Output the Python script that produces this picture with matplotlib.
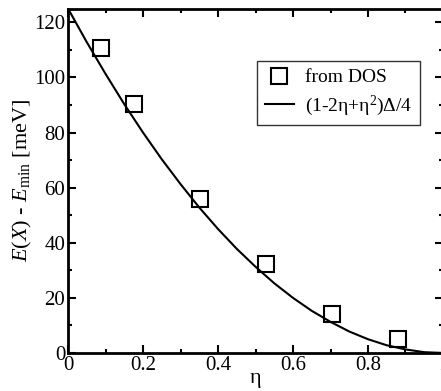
import matplotlib
matplotlib.use("Agg")
import matplotlib.pyplot as plt
from matplotlib.ticker import MultipleLocator

plt.rcParams['font.family'] = ['Liberation Serif', 'DejaVu Serif']
plt.rcParams['mathtext.fontset'] = 'custom'
plt.rcParams['mathtext.rm'] = 'Liberation Serif'
plt.rcParams['mathtext.it'] = 'Liberation Serif:italic'

# data points from DOS
eta_dos = [0.088, 0.176, 0.352, 0.528, 0.704, 0.88]
e_dos = [110.5, 90.5, 56.0, 32.3, 14.2, 5.0]

# model curve
eta_fit = [0.0, 0.05, 0.1, 0.15, 0.2, 0.25, 0.3, 0.35, 0.4, 0.45, 0.5,
           0.55, 0.6, 0.65, 0.7, 0.75, 0.8, 0.85, 0.9, 0.95, 1.0]
e_fit = [125.0, 112.8, 101.3, 90.3, 80.0, 70.3, 61.3, 52.8, 45.0, 37.8, 31.3,
         25.3, 20.0, 15.3, 11.3, 7.8, 5.0, 2.8, 1.3, 0.3, 0.0]

fig = plt.figure(figsize=(4.41, 3.91), dpi=100)
ax = fig.add_axes([68 / 441, 38 / 391, 375 / 441, 344.5 / 391])

ax.plot(eta_dos, e_dos, 's', ms=11, mfc='none', mec='black', mew=1.5,
        label='from DOS')
ax.plot(eta_fit, e_fit, '-', color='black', lw=1.5,
        label=r'(1-2η+η$^{2}$)Δ/4')

ax.set_xlim(0, 1)
ax.set_ylim(0, 125)
ax.xaxis.set_major_locator(MultipleLocator(0.2))
ax.xaxis.set_minor_locator(MultipleLocator(0.1))
ax.yaxis.set_major_locator(MultipleLocator(20))
ax.yaxis.set_minor_locator(MultipleLocator(10))
ax.xaxis.set_major_formatter(plt.FuncFormatter(lambda v, p: '%g' % round(v, 1)))
ax.tick_params(which='both', direction='in', top=True, right=True,
               width=1.5, labelsize=15, pad=2)
ax.tick_params(which='major', length=6)
ax.tick_params(which='minor', length=3)
for s in ax.spines.values():
    s.set_linewidth(2)

ax.set_xlabel('η', fontsize=16, labelpad=-4)
ax.set_ylabel(r'$E(X)$ - $E_{\mathrm{min}}$ [meV]', fontsize=16, labelpad=0)

leg = ax.legend(loc='upper left', bbox_to_anchor=((257 - 68) / 375, 1 - (61 - 8.5) / 344.5),
                borderaxespad=0, frameon=True, fancybox=False, edgecolor='black',
                fontsize=14, handlelength=1.5, handletextpad=0.55,
                borderpad=0.4, labelspacing=0.35)
leg.get_frame().set_linewidth(1.0)

fig.savefig('out.png', dpi=100)
